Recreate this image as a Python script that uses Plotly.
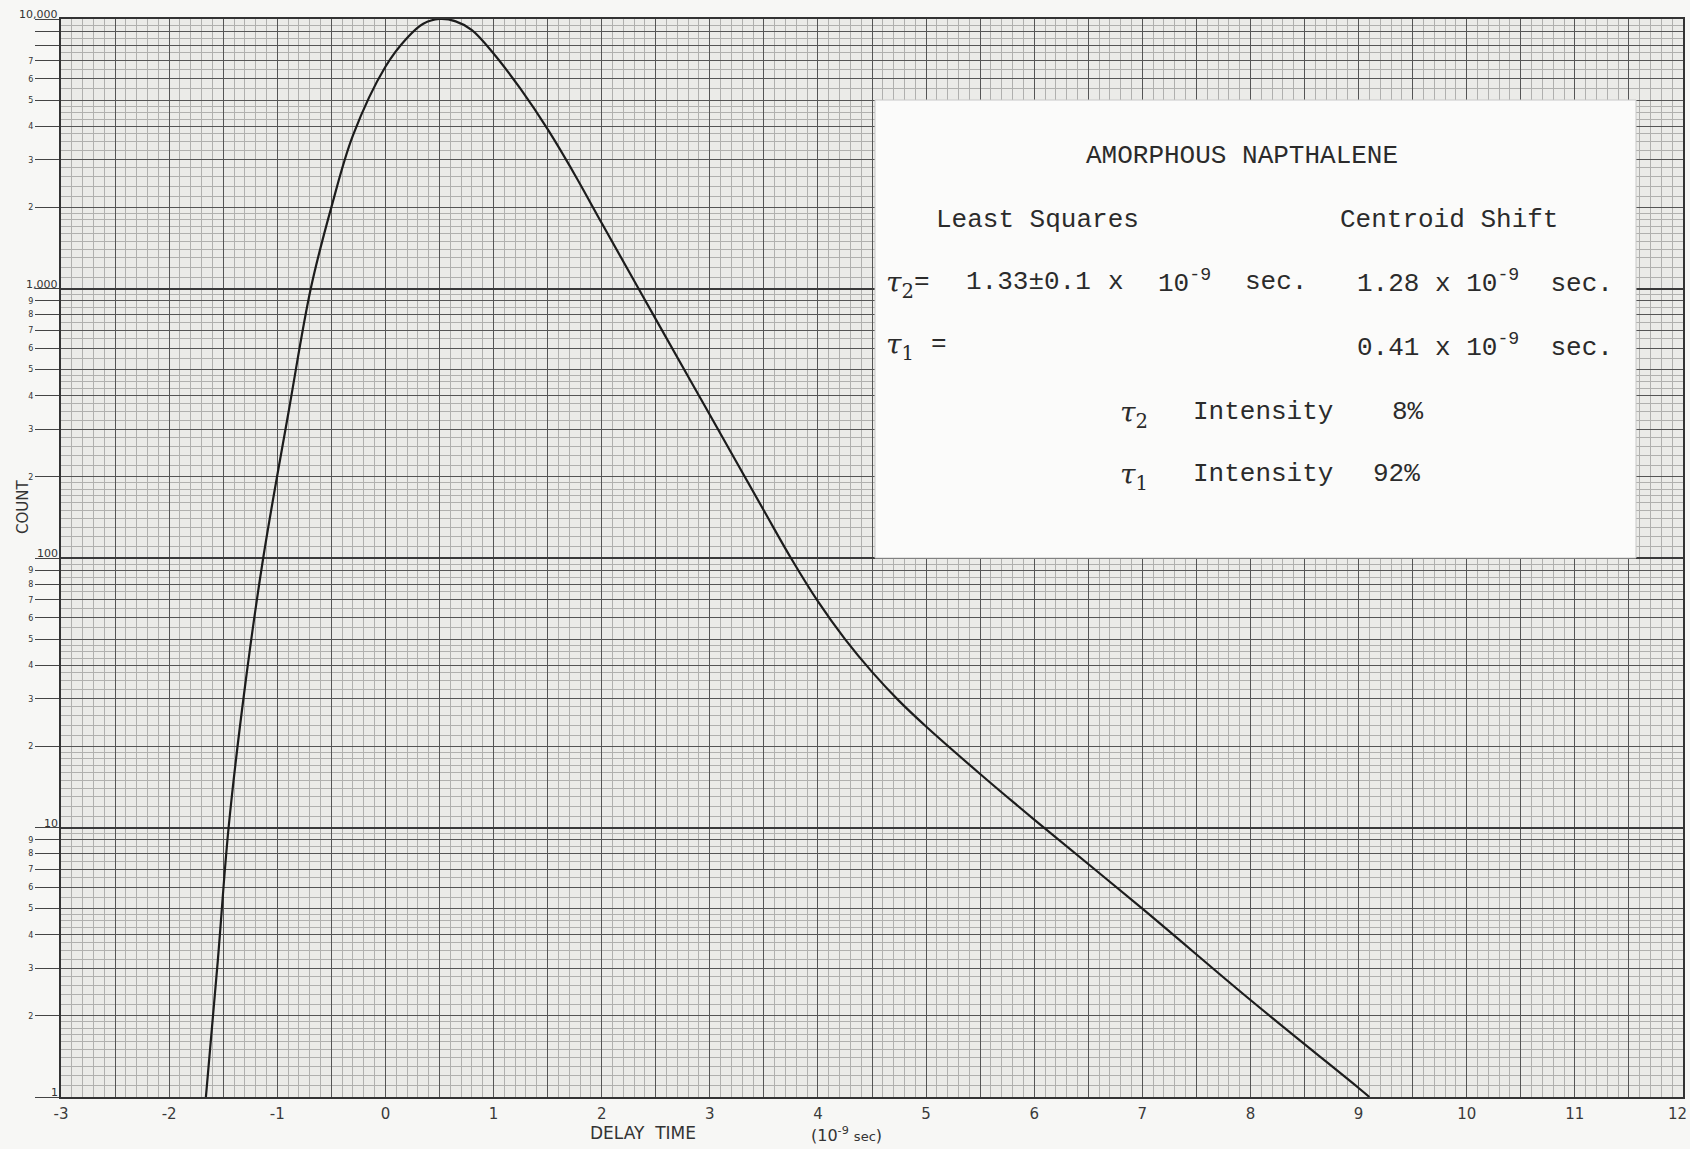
import numpy as np
import plotly.graph_objects as go

# ---------------- data ----------------
delay_time = [-1.66, -1.55, -1.45, -1.30, -1.13, -0.90, -0.69, -0.50, -0.30, 0.00,
              0.20, 0.35, 0.50, 0.65, 0.80, 1.00, 1.25, 1.50, 1.75, 2.00,
              2.50, 3.00, 3.50, 3.75, 4.00, 4.25, 4.50, 4.75, 5.00, 5.50,
              6.00, 7.00, 8.00, 9.00, 9.10]
counts = [1.0, 3.2, 10, 33, 100, 340, 1000, 2000, 3700, 6650,
          8500, 9600, 10000, 9800, 9100, 7450, 5500, 3900, 2650, 1750,
          770, 340, 150, 100, 69, 50, 37.8, 29.5, 23.7, 15.8,
          10.7, 5.0, 2.29, 1.08, 1.0]

x_tick_vals = [-3, -2, -1, 0, 1, 2, 3, 4, 5, 6, 7, 8, 9, 10, 11, 12]
x_tick_text = ["-3", "-2", "-1", "0", "1", "2", "3", "4", "5", "6", "7", "8", "9", "10", "11", "12"]

y_digit_vals = [2, 3, 4, 5, 6, 7, 8, 9,
                20, 30, 40, 50, 60, 70, 80, 90,
                200, 300, 400, 500, 600, 700, 800, 900,
                2000, 3000, 4000, 5000, 6000, 7000, 8000, 9000]
y_digit_text = ["2", "3", "4", "5", "6", "7", "8", "9",
                "2", "3", "4", "5", "6", "7", "8", "9",
                "2", "3", "4", "5", "6", "7", "8", "9",
                "2", "3", "4", "5", "6", "7", " ", " "]
decade_vals = [1, 10, 100, 1000, 10000]
decade_text = ["1", "10", "100", "1,000", "10,000"]

# ---------------- layout geometry helpers ----------------
W, H = 1690, 1149
L, R, T, B = 61, 7, 19, 52
PW, PH = W - L - R, H - T - B


def px(xp):
    return (xp - L) / PW


def py(yp):
    return 1 - (yp - T) / PH


# graph-paper grid positions (style only); the last x label sits at the page edge,
# so it is drawn as a right-aligned annotation to keep it inside the page
x_major_grid = [v / 2 for v in range(-6, 25)]
x_major_text = [x_tick_text[x_tick_vals.index(int(v))]
                if float(v).is_integer() and v != x_tick_vals[-1] else " " for v in x_major_grid]
fine_steps = [1.1, 1.2, 1.3, 1.4, 1.5, 1.6, 1.7, 1.8, 1.9, 2.2, 2.4, 2.6, 2.8, 3.25, 3.5, 3.75,
              4.25, 4.5, 4.75, 5.5, 6.5, 7.5, 8.5, 9.5]
y_fine_grid = [f * 10 ** k for k in range(4) for f in fine_steps]

fig = go.Figure()

fig.add_trace(go.Scatter(
    x=delay_time, y=counts, mode="lines",
    line=dict(color="#1c1c1c", width=2.2, shape="spline", smoothing=1.0),
    hoverinfo="skip",
))

# overlay axis for heavier decade lines
fig.add_trace(go.Scatter(x=[None], y=[None], yaxis="y2", showlegend=False, hoverinfo="skip"))

fig.update_layout(
    width=W, height=H,
    margin=dict(l=L, r=R, t=T, b=B),
    paper_bgcolor="#f7f7f5",
    plot_bgcolor="#ebebe8",
    showlegend=False,
    xaxis=dict(
        range=[-3, 12], tickmode="array", tickvals=x_major_grid, ticktext=x_major_text,
        ticks="", showgrid=True, gridcolor="#555555", gridwidth=1.2,
        minor=dict(dtick=0.1, tick0=-3, showgrid=True, gridcolor="#b0b0ae", gridwidth=1, ticks=""),
        showline=True, linecolor="#333", linewidth=2, mirror=True,
        tickfont=dict(family="DejaVu Sans", size=15, color="#3a3a3a"),
        ticklabelstandoff=2, automargin=False,
        zeroline=False,
    ),
    yaxis=dict(
        type="log", range=[0, 4], tickmode="array",
        tickvals=y_digit_vals + decade_vals,
        ticktext=y_digit_text + [" "] * len(decade_vals),
        ticks="outside", ticklen=24, tickwidth=1.2, tickcolor="#444",
        showgrid=True, gridcolor="#555555", gridwidth=1.2,
        minor=dict(tickmode="array", tickvals=y_fine_grid, showgrid=True,
                   gridcolor="#b0b0ae", gridwidth=1, ticks=""),
        showline=True, linecolor="#333", linewidth=2, mirror=True,
        tickfont=dict(family="DejaVu Sans", size=8, color="#333"),
        automargin=False, zeroline=False,
    ),
    yaxis2=dict(
        type="log", range=[0, 4], overlaying="y", tickmode="array", tickvals=decade_vals,
        showticklabels=False, ticks="", showgrid=True, gridcolor="#3a3a3a", gridwidth=1.6,
        automargin=False, zeroline=False,
    ),
)

# last x tick label, kept inside the page edge
fig.add_annotation(x=x_tick_vals[-1], xref="x", y=0, yref="paper", text=x_tick_text[-1],
                   showarrow=False, xanchor="right", yanchor="top", xshift=6, yshift=-6,
                   font=dict(family="DejaVu Sans", size=15, color="#3a3a3a"))

# pasted white label over the graph paper
fig.add_shape(type="rect", xref="paper", yref="paper",
              x0=px(875), x1=px(1636), y0=py(558), y1=py(100),
              fillcolor="#fbfbfa", line=dict(color="#c8c8c8", width=1), layer="above")

# decade labels on the count axis
for v, t in zip(decade_vals, decade_text):
    fig.add_annotation(x=0, xref="paper", y=np.log10(v), yref="y", text=t, showarrow=False,
                       xanchor="right", yanchor="bottom", xshift=-1, yshift=-4,
                       font=dict(family="DejaVu Sans", size=11, color="#333"))

mono = dict(family="Liberation Mono", size=26, color="#2b2b2b")
tau_font = dict(family="DejaVu Serif", size=28, color="#2b2b2b")


def note(xp, yp, text, font=mono, anchor="left"):
    fig.add_annotation(x=px(xp), y=py(yp), xref="paper", yref="paper", text=text,
                       showarrow=False, xanchor=anchor, yanchor="middle", font=font)


note(1242, 156, "AMORPHOUS NAPTHALENE", anchor="center")
note(934, 220, "Least Squares")
note(1338, 220, "Centroid Shift")

note(884, 284, "<i>τ</i><sub>2</sub>", font=tau_font)
note(912, 282, "=")
note(964, 282, "1.33±0.1")
note(1106, 282, "x")
note(1156, 282, "10<sup>-9</sup>")
note(1243, 282, "sec.")
note(1355, 282, "1.28 x 10<sup>-9</sup>  sec.")

note(884, 346, "<i>τ</i><sub>1</sub>", font=tau_font)
note(929, 344, "=")
note(1355, 346, "0.41 x 10<sup>-9</sup>  sec.")

note(1118, 414, "<i>τ</i><sub>2</sub>", font=tau_font)
note(1191, 412, "Intensity")
note(1390, 412, "8%")
note(1118, 476, "<i>τ</i><sub>1</sub>", font=tau_font)
note(1191, 474, "Intensity")
note(1371, 474, "92%")

# axis titles in lettering-guide style
fig.add_annotation(x=px(22), y=py(507), xref="paper", yref="paper", text="COUNT", textangle=-90,
                   showarrow=False, xshift=-10, font=dict(family="DejaVu Sans", size=15, color="#333"))
fig.add_annotation(x=px(643), y=py(1133), xref="paper", yref="paper", text="DELAY  TIME",
                   showarrow=False, yshift=-12, font=dict(family="DejaVu Sans", size=17, color="#333"))
fig.add_annotation(x=px(846), y=py(1135), xref="paper", yref="paper",
                   text="(10<sup>-9</sup> <span style='font-size:13px'>sec</span>)",
                   showarrow=False, yshift=-12, font=dict(family="DejaVu Sans", size=16, color="#333"))

fig.write_html("out.html")
